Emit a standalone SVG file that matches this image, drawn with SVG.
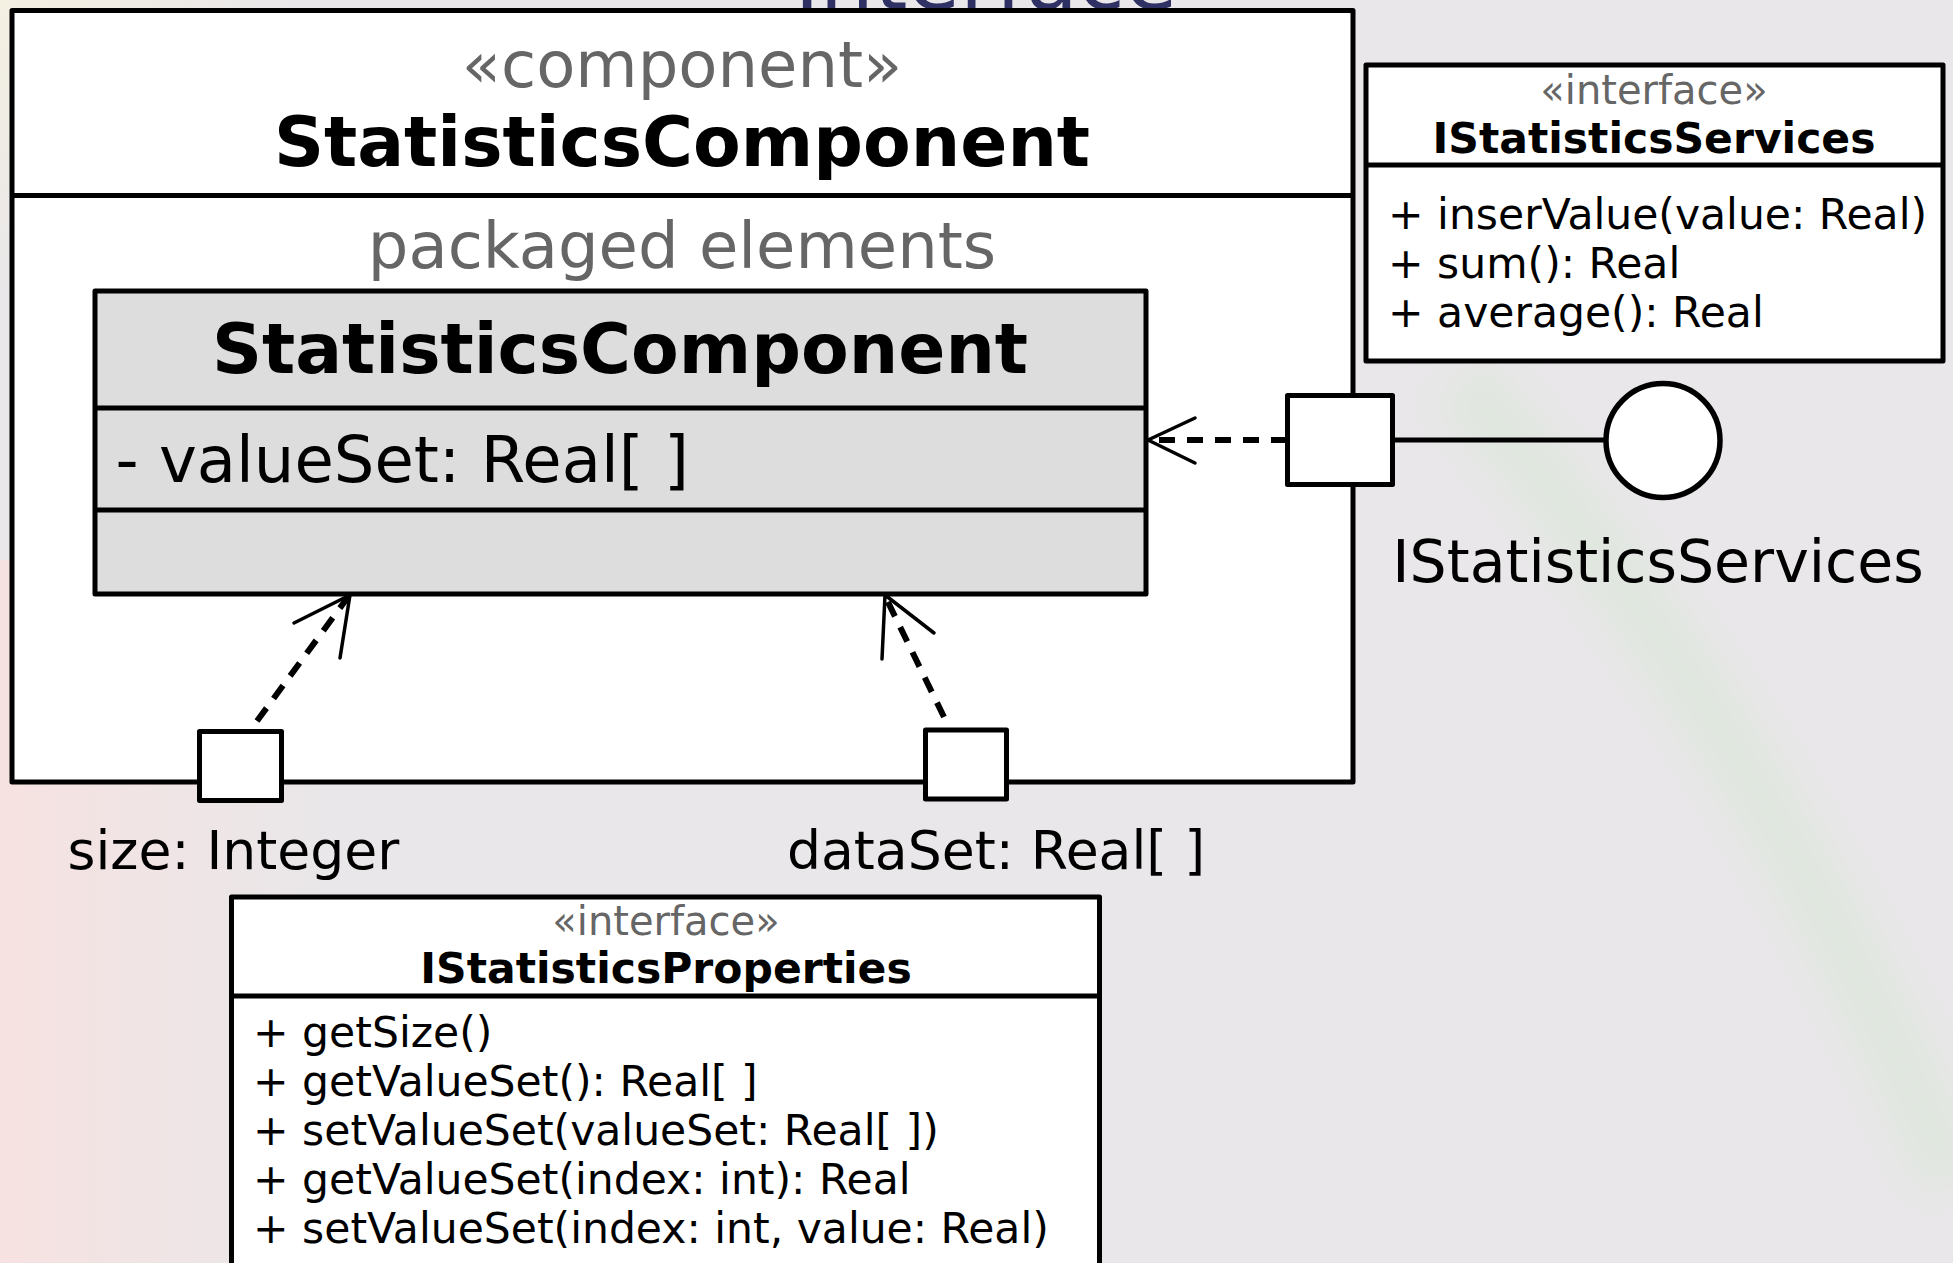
<svg xmlns="http://www.w3.org/2000/svg" width="1953" height="1263" viewBox="0 0 1953 1263">
<defs>
<style>
.t{font-family:"DejaVu Sans","Liberation Sans",sans-serif;fill:#000}
.st{fill:#666}
.b{font-weight:bold}
.box{fill:#fff;stroke:#000;stroke-width:5;stroke-linejoin:round}
.sep{stroke:#000;stroke-width:5}
.dash{fill:none;stroke:#000;stroke-width:6;stroke-dasharray:16 12}
.head{fill:none;stroke:#000;stroke-width:3.5;stroke-linecap:round;stroke-linejoin:round}
</style>
<linearGradient id="bgL" x1="0" y1="0" x2="1" y2="0">
<stop offset="0" stop-color="#f6e2e1" stop-opacity="1"/>
<stop offset="1" stop-color="#f6e2e1" stop-opacity="0"/>
</linearGradient>
<radialGradient id="bgTL" cx="0" cy="0" r="1">
<stop offset="0" stop-color="#f4f0e2"/>
<stop offset="1" stop-color="#f4f0e2" stop-opacity="0"/>
</radialGradient>
<filter id="blur" x="-20%" y="-20%" width="140%" height="140%"><feGaussianBlur stdDeviation="18"/></filter>
</defs>
<g id="background">
<rect x="0" y="0" width="1953" height="1263" fill="#e9e7e9"/>
<rect x="0" y="560" width="330" height="703" fill="url(#bgL)"/>
<rect x="0" y="0" width="300" height="300" fill="url(#bgTL)"/>
<path d="M1460,380 C1620,560 1800,820 1953,1180" fill="none" stroke="#e0e7df" stroke-width="70" filter="url(#blur)"/>
<text class="t" x="986" y="9" text-anchor="middle" font-size="85.5" style="fill:#2f3164">Interface</text>
</g>
<g id="component">
<rect class="box" x="12" y="10.5" width="1341" height="771.5" stroke-width="5.5"/>
<line class="sep" x1="12" y1="195.5" x2="1353" y2="195.5"/>
<text class="t st" x="682" y="87" text-anchor="middle" font-size="64">«component»</text>
<text class="t b" x="682" y="166" text-anchor="middle" font-size="69.5">StatisticsComponent</text>
<text class="t st" x="682" y="268" text-anchor="middle" font-size="64">packaged elements</text>
</g>
<g id="inner-class">
<rect class="box" x="95" y="291" width="1051" height="303" style="fill:#dddddd"/>
<line class="sep" x1="95" y1="408" x2="1146" y2="408"/>
<line class="sep" x1="95" y1="510" x2="1146" y2="510"/>
<text class="t b" x="620" y="373" text-anchor="middle" font-size="69.5">StatisticsComponent</text>
<text class="t" x="115.5" y="482" font-size="64">- valueSet: Real[ ]</text>
</g>
<g id="port-services">
<rect class="box" x="1287.5" y="395.5" width="105" height="89"/>
</g>
<g id="lollipop">
<line x1="1392" y1="440" x2="1606" y2="440" stroke="#000" stroke-width="5"/>
<circle cx="1663" cy="440.5" r="57" fill="#fff" stroke="#000" stroke-width="5.5"/>
<text class="t" x="1658" y="582" text-anchor="middle" font-size="58.5">IStatisticsServices</text>
</g>
<g id="port-size">
<rect class="box" x="199.5" y="731.5" width="82" height="69"/>
<text class="t" x="67.5" y="869" font-size="53.6">size: Integer</text>
</g>
<g id="port-dataset">
<rect class="box" x="925.5" y="730" width="81" height="69"/>
<text class="t" x="787" y="869" font-size="53.6">dataSet: Real[ ]</text>
</g>
<g id="IStatisticsServices">
<rect class="box" x="1366" y="65" width="577" height="296"/>
<line class="sep" x1="1366" y1="165" x2="1943" y2="165"/>
<text class="t st" x="1654" y="104" text-anchor="middle" font-size="40">«interface»</text>
<text class="t b" x="1654" y="153" text-anchor="middle" font-size="42.5">IStatisticsServices</text>
<text class="t" x="1388" y="229" font-size="42.5">+ inserValue(value: Real)</text>
<text class="t" x="1388" y="278" font-size="42.5">+ sum(): Real</text>
<text class="t" x="1388" y="327" font-size="42.5">+ average(): Real</text>
</g>
<g id="IStatisticsProperties">
<rect class="box" x="231.5" y="897" width="868" height="420"/>
<line class="sep" x1="231.5" y1="996" x2="1099.5" y2="996"/>
<text class="t st" x="666" y="935" text-anchor="middle" font-size="40">«interface»</text>
<text class="t b" x="666" y="983" text-anchor="middle" font-size="42.5">IStatisticsProperties</text>
<text class="t" x="253" y="1047" font-size="42.5">+ getSize()</text>
<text class="t" x="253" y="1096" font-size="42.5">+ getValueSet(): Real[ ]</text>
<text class="t" x="253" y="1145" font-size="42.5">+ setValueSet(valueSet: Real[ ])</text>
<text class="t" x="253" y="1194" font-size="42.5">+ getValueSet(index: int): Real</text>
<text class="t" x="253" y="1243" font-size="42.5">+ setValueSet(index: int, value: Real)</text>
</g>
<g id="connectors">
<line class="dash" x1="1287" y1="440" x2="1150" y2="440"/>
<polyline class="head" points="1195,418 1148,440 1195,463"/>
<line class="dash" x1="257" y1="721" x2="348" y2="597"/>
<polyline class="head" points="294,623 350,595 340,658"/>
<line class="dash" x1="944" y1="717" x2="886" y2="598"/>
<polyline class="head" points="882,659 885,595 934,633"/>
</g>
</svg>
